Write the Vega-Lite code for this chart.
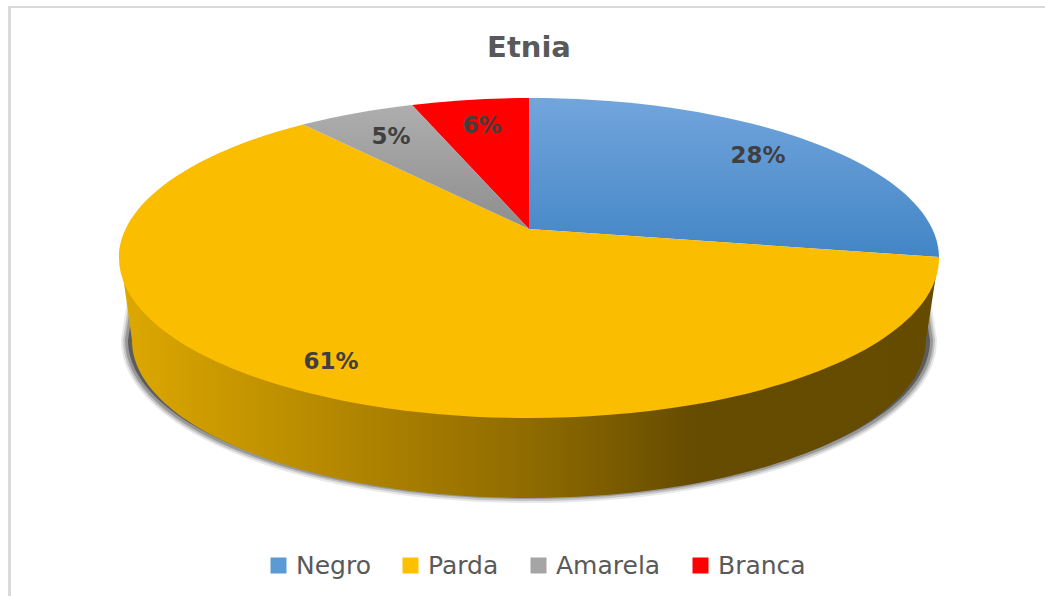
{
  "$schema": "https://vega.github.io/schema/vega-lite/v6.json",
  "width": 1045,
  "height": 596,
  "autosize": "none",
  "padding": 0,
  "background": "white",
  "title": {"text": "Etnia", "font": "DejaVu Sans", "fontSize": 29, "fontWeight": "bold", "color": "#595959", "anchor": "middle", "dx": 6.5, "offset": 0, "dy": 86, "baseline": "alphabetic"},
  "view": {"stroke": null},
  "data": {"values": [
    {"categoria": "Negro", "percentual": 0.28},
    {"categoria": "Parda", "percentual": 0.61},
    {"categoria": "Amarela", "percentual": 0.05},
    {"categoria": "Branca", "percentual": 0.06}
  ]},
  "layer": [
    {
      "data": {"values": [{"borda": "topo"}]},
      "mark": {"type": "rule", "stroke": "#D9D9D9", "strokeWidth": 2},
      "encoding": {
        "x": {"datum": 8, "type": "quantitative", "scale": {"domain": [0, 1045]}, "axis": null},
        "x2": {"datum": 1045},
        "y": {"datum": 7, "type": "quantitative", "scale": {"domain": [0, 596], "reverse": true}, "axis": null}
      }
    },
    {
      "data": {"values": [{"borda": "esquerda"}]},
      "mark": {"type": "rule", "stroke": "#D9D9D9", "strokeWidth": 3},
      "encoding": {
        "x": {"datum": 9.5, "type": "quantitative", "scale": {"domain": [0, 1045]}, "axis": null},
        "y": {"datum": 6, "type": "quantitative", "scale": {"domain": [0, 596], "reverse": true}, "axis": null},
        "y2": {"datum": 596}
      }
    },
    {
      "transform": [{"filter": "datum.categoria === 'Parda'"}],
      "mark": {"type": "point", "size": 4, "opacity": 1, "fill": "none", "stroke": "#444444", "strokeOpacity": 0.12, "strokeWidth": 14, "strokeJoin": "round", "shape": "M-384,-25 L-394.5,42 A401,156 0 0 0 407.5,42 L397,-25 Z"}
    },
    {
      "transform": [{"filter": "datum.categoria === 'Parda'"}],
      "mark": {"type": "point", "size": 4, "opacity": 1, "fill": "none", "stroke": "#444444", "strokeOpacity": 0.22, "strokeWidth": 10, "strokeJoin": "round", "shape": "M-384,-25 L-394.5,42 A401,156 0 0 0 407.5,42 L397,-25 Z"}
    },
    {
      "transform": [{"filter": "datum.categoria === 'Parda'"}],
      "mark": {"type": "point", "size": 4, "opacity": 1, "fill": "none", "stroke": "#444444", "strokeOpacity": 0.34, "strokeWidth": 6, "strokeJoin": "round", "shape": "M-384,-25 L-394.5,42 A401,156 0 0 0 407.5,42 L397,-25 Z"}
    },
    {
      "transform": [{"filter": "datum.categoria === 'Parda'"}],
      "mark": {"type": "point", "size": 4, "opacity": 1, "filled": true, "fill": "#555555", "fillOpacity": 0.9, "strokeWidth": 0, "shape": "M-384,-25 L-394.5,42 A401,156 0 0 0 407.5,42 L397,-25 Z"}
    },
    {
      "transform": [{"filter": "datum.categoria === 'Parda'"}],
      "mark": {"type": "point", "size": 4, "opacity": 1, "filled": true, "strokeWidth": 0,
        "fill": {"gradient": "linear", "x1": 0, "y1": 0, "x2": 1, "y2": 0, "stops": [
          {"offset": 0, "color": "#DDA800"},
          {"offset": 0.34, "color": "#A87E00"},
          {"offset": 0.5, "color": "#8F6B00"},
          {"offset": 0.7, "color": "#664C00"},
          {"offset": 1, "color": "#644B00"}
        ]},
        "shape": "M-401.5,-36 L-390.5,42 A397,158 0 0 0 403.5,42 L415.5,-36 Z"}
    },
    {
      "transform": [{"filter": "datum.categoria === 'Branca'"}],
      "mark": {"type": "point", "size": 4, "opacity": 1, "filled": true, "strokeWidth": 0,
        "shape": "M6.5,-69 L-110.5,-193 A410,160 0 0 1 6.5,-200 Z"},
      "encoding": {
        "fill": {"field": "categoria", "type": "nominal",
          "scale": {"domain": ["Negro", "Parda", "Amarela", "Branca"], "range": ["#5B9BD5", "#FFC000", "#A5A5A5", "#FF0000"]},
          "legend": {"title": null, "orient": "none", "legendX": 266, "legendY": 553, "direction": "horizontal", "columns": 4, "symbolType": "square", "symbolSize": 256, "symbolStrokeWidth": 0, "labelFont": "DejaVu Sans", "labelFontSize": 25, "labelColor": "#595959", "labelOffset": 5, "columnPadding": 27, "gridAlign": "none"}
        }
      }
    },
    {
      "transform": [{"filter": "datum.categoria === 'Negro'"}],
      "mark": {"type": "point", "size": 4, "opacity": 1, "filled": true, "strokeWidth": 0,
        "fill": {"gradient": "linear", "x1": 0, "y1": 0, "x2": 0, "y2": 1, "stops": [
          {"offset": 0, "color": "#72A5DC"},
          {"offset": 1, "color": "#4285C6"}
        ]},
        "shape": "M6.5,-69 L6.5,-200 A410,160 0 0 1 416.5,-41 Z"}
    },
    {
      "transform": [{"filter": "datum.categoria === 'Parda'"}],
      "mark": {"type": "point", "size": 4, "opacity": 1, "filled": true, "strokeWidth": 0, "fill": "#FBBD00",
        "shape": "M6.5,-69 L416.5,-41 A410,160 0 1 1 -219.5,-173.5 Z"}
    },
    {
      "transform": [{"filter": "datum.categoria === 'Amarela'"}],
      "mark": {"type": "point", "size": 4, "opacity": 1, "filled": true, "strokeWidth": 0,
        "fill": {"gradient": "linear", "x1": 0, "y1": 0, "x2": 0, "y2": 1, "stops": [
          {"offset": 0, "color": "#AEAEAE"},
          {"offset": 1, "color": "#8E8E8E"}
        ]},
        "shape": "M6.5,-69 L-219.5,-173.5 A410,160 0 0 1 -110.5,-193 Z"}
    },
    {
      "transform": [{"filter": "datum.categoria === 'Negro'"}],
      "mark": {"type": "text", "dx": 235.5, "dy": -142, "font": "DejaVu Sans", "fontSize": 23, "fontWeight": "bold", "fill": "#404040", "baseline": "middle", "align": "center"},
      "encoding": {"text": {"field": "percentual", "type": "quantitative", "format": ".0%"}}
    },
    {
      "transform": [{"filter": "datum.categoria === 'Parda'"}],
      "mark": {"type": "text", "dx": -191.5, "dy": 64, "font": "DejaVu Sans", "fontSize": 23, "fontWeight": "bold", "fill": "#404040", "baseline": "middle", "align": "center"},
      "encoding": {"text": {"field": "percentual", "type": "quantitative", "format": ".0%"}}
    },
    {
      "transform": [{"filter": "datum.categoria === 'Amarela'"}],
      "mark": {"type": "text", "dx": -131.5, "dy": -161, "font": "DejaVu Sans", "fontSize": 23, "fontWeight": "bold", "fill": "#404040", "baseline": "middle", "align": "center"},
      "encoding": {"text": {"field": "percentual", "type": "quantitative", "format": ".0%"}}
    },
    {
      "transform": [{"filter": "datum.categoria === 'Branca'"}],
      "mark": {"type": "text", "dx": -40.5, "dy": -172, "font": "DejaVu Sans", "fontSize": 23, "fontWeight": "bold", "fill": "#404040", "baseline": "middle", "align": "center"},
      "encoding": {"text": {"field": "percentual", "type": "quantitative", "format": ".0%"}}
    }
  ]
}
